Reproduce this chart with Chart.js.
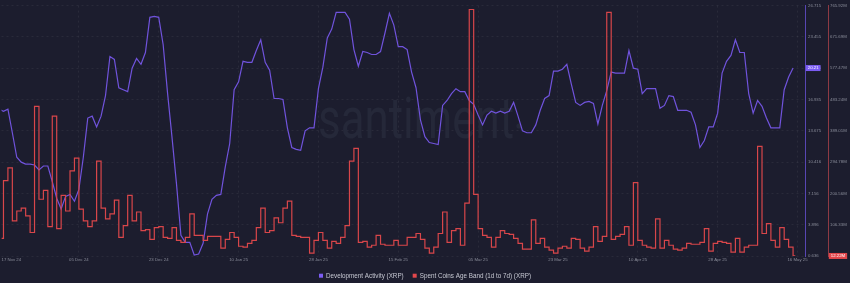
<!DOCTYPE html>
<html>
<head>
<meta charset="utf-8">
<script src="https://cdn.jsdelivr.net/npm/chart.js@4.4.1/dist/chart.umd.min.js"></script>
<style>
  html, body { margin: 0; padding: 0; background: #1c1d2e; }
  canvas { display: block; }
</style>
</head>
<body>
<canvas id="chart" width="850" height="283"></canvas>
<script>
// daily values, day 0 = 17 Nov 24
const devActivity = [
  15.92, 15.71, 15.92, 13.47, 10.92, 10.41, 10.21, 10.21, 10.11, 9.60,
  10.01, 10.01, 8.38, 6.65, 5.53, 6.85, 7.05, 6.34, 7.57, 10.92,
  15.00, 15.20, 14.08, 15.20, 17.34, 21.42, 21.11, 18.16, 17.95, 17.75,
  20.20, 21.21, 20.60, 21.83, 25.49, 25.59, 25.49, 22.64, 17.55, 12.96,
  8.17, 2.78, 2.06, 2.06, 0.74, 0.84, 1.96, 5.02, 6.54, 6.95,
  7.05, 9.91, 12.35, 17.95, 18.77, 20.91, 20.81, 20.81, 22.03, 23.15,
  20.81, 19.99, 17.04, 17.04, 16.94, 13.98, 11.94, 11.74, 11.64, 13.67,
  13.98, 13.98, 18.06, 20.30, 23.35, 24.27, 26.00, 26.00, 26.00, 25.29,
  22.13, 20.40, 21.93, 21.83, 21.62, 21.62, 21.93, 23.86, 25.90, 24.68,
  22.44, 22.44, 22.13, 19.79, 18.16, 14.80, 13.06, 12.45, 12.35, 12.25,
  16.32, 16.83, 17.55, 18.06, 17.75, 17.75, 16.83, 16.43, 15.31, 14.29,
  15.31, 15.71, 15.51, 15.71, 15.51, 15.71, 16.63, 15.20, 13.67, 13.47,
  13.47, 14.29, 15.81, 17.04, 17.34, 19.89, 19.89, 20.09, 20.60, 18.57,
  16.63, 16.32, 16.63, 16.73, 16.53, 14.39, 16.32, 17.85, 19.79, 19.69,
  19.69, 19.69, 22.03, 20.20, 20.09, 17.55, 18.06, 18.06, 18.06, 16.02,
  16.32, 17.34, 17.24, 15.81, 15.81, 15.81, 15.61, 14.29, 11.94, 12.66,
  14.08, 14.08, 15.51, 19.69, 20.91, 21.52, 23.15, 21.83, 21.83, 17.55,
  15.51, 16.83, 16.22, 15.00, 13.98, 13.98, 13.98, 17.95, 19.28, 20.21
];

// millions of XRP
const spentCoins = [
  65.1, 238.8, 277.1, 118.1, 147.5, 156.4, 132.8, 82.8, 462.6, 182.9,
  209.4, 100.4, 433.2, 94.5, 194.7, 147.5, 268.3, 306.6, 153.4, 118.1,
  100.4, 118.1, 297.7, 156.4, 124.0, 138.7, 180.0, 68.1, 103.4, 194.7,
  118.1, 144.6, 88.7, 91.6, 62.2, 97.5, 100.4, 68.1, 65.1, 97.5,
  59.2, 53.3, 68.1, 138.7, 74.0, 74.0, 59.2, 71.0, 71.0, 71.0,
  35.6, 62.2, 82.8, 68.1, 41.5, 38.6, 50.4, 59.2, 97.5, 156.4,
  82.8, 88.7, 126.9, 112.2, 156.4, 177.0, 74.0, 71.0, 68.1, 68.1,
  20.9, 59.2, 82.8, 59.2, 35.6, 56.3, 50.4, 68.1, 103.4, 297.7,
  336.0, 53.3, 56.3, 38.6, 44.5, 74.0, 47.4, 44.5, 44.5, 59.2,
  44.5, 44.5, 68.1, 68.1, 79.8, 62.2, 35.6, 20.9, 38.6, 79.8,
  144.6, 53.3, 88.7, 94.5, 44.5, 171.1, 754.1, 197.6, 94.5, 74.0,
  68.1, 38.6, 68.1, 88.7, 79.8, 76.9, 65.1, 50.4, 32.7, 32.7,
  121.0, 50.4, 65.1, 38.6, 29.8, 20.9, 35.6, 41.5, 35.6, 65.1,
  62.2, 35.6, 26.8, 38.6, 100.4, 56.3, 71.0, 745.3, 62.2, 71.0,
  76.9, 100.4, 44.5, 232.9, 59.2, 44.5, 38.6, 35.6, 124.0, 35.6,
  59.2, 44.5, 32.7, 29.8, 35.6, 50.4, 47.4, 47.4, 53.3, 94.5,
  26.8, 50.4, 56.3, 53.3, 50.4, 23.9, 65.1, 23.9, 38.6, 44.5,
  44.5, 341.9, 79.8, 109.3, 59.2, 38.6, 97.5, 62.2, 38.6, 12.22
];

const days = devActivity.map((_, i) => i);

const xTickDays = [0, 18, 36, 54, 72, 90, 108, 126, 144, 162, 180];
const xTickLabels = ['17 Nov 24', '05 Dec 24', '23 Dec 24', '10 Jan 25', '28 Jan 25', '15 Feb 25',
  '05 Mar 25', '23 Mar 25', '10 Apr 25', '28 Apr 25', '16 May 25'];
const devTicks = [0.636, 3.896, 7.156, 10.416, 13.675, 16.935, 20.195, 23.455, 26.715];
const spentTicks = [12.10, 106.33, 200.56, 294.78, 389.01, 483.24, 577.47, 671.69, 765.92];

const FONT = '"Liberation Sans", Arial, sans-serif';
const PURPLE = '#7053dc';
const RED = '#d8464a';
const GRID = 'rgba(255,255,255,0.06)';
const TICK = '#8a8d9a';

Chart.defaults.font.family = FONT;

const watermark = {
  id: 'watermark',
  beforeDatasetsDraw(chart) {
    const ctx = chart.ctx;
    ctx.save();
    ctx.font = '400 58px Roboto';
    ctx.fillStyle = '#252839';
    ctx.textBaseline = 'alphabetic';
    const w = ctx.measureText('santiment').width;
    ctx.translate(318, 138);
    ctx.scale(196 / w, 1);
    ctx.fillText('santiment', 0, 0);
    ctx.restore();
    ctx.save();
    ctx.fillStyle = '#252839';
    ctx.beginPath();
    ctx.arc(519, 126, 2.6, 0, Math.PI * 2);
    ctx.fill();
    ctx.restore();
  }
};

const badges = {
  id: 'badges',
  afterDraw(chart) {
    const ctx = chart.ctx;
    const draw = (scale, value, text, color) => {
      const y = scale.getPixelForValue(value);
      ctx.save();
      ctx.font = `4.3px ${FONT}`;
      const w = ctx.measureText(text).width + 4;
      ctx.fillStyle = color;
      ctx.fillRect(scale.left + 0.8, y - 3, w, 6);
      ctx.fillStyle = '#ffffff';
      ctx.textBaseline = 'middle';
      ctx.textAlign = 'left';
      ctx.fillText(text, scale.left + 2.8, y + 0.2);
      ctx.restore();
    };
    const lastDev = devActivity[devActivity.length - 1];
    const lastSpent = spentCoins[spentCoins.length - 1];
    draw(chart.scales.yDev, lastDev, lastDev.toFixed(2), '#7b5cf2');
    draw(chart.scales.ySpent, lastSpent, lastSpent.toFixed(2) + 'M', '#e2474c');
  }
};

const bottomLegend = {
  id: 'bottomLegend',
  afterDraw(chart) {
    const ctx = chart.ctx;
    ctx.save();
    ctx.font = `6.3px ${FONT}`;
    const items = chart.data.datasets.map(d => ({
      text: d.label, color: d.legendColor, w: 4 + 3 + ctx.measureText(d.label).width
    }));
    const gap = 9;
    const total = items.reduce((s, it) => s + it.w, 0) + gap * (items.length - 1);
    let x = (chart.width - total) / 2;
    const y = 275.7;
    ctx.textBaseline = 'middle';
    items.forEach(it => {
      ctx.fillStyle = it.color;
      ctx.fillRect(x, y - 2, 4, 4);
      ctx.fillStyle = '#c6c8d2';
      ctx.fillText(it.text, x + 7, y + 0.3);
      x += it.w + gap;
    });
    ctx.restore();
  }
};

const tickFont = { size: 4.3, family: FONT };

new Chart(document.getElementById('chart'), {
  type: 'line',
  data: {
    labels: days,
    datasets: [
      {
        label: 'Development Activity (XRP)',
        data: devActivity.map((v, i) => ({ x: days[i], y: v })),
        yAxisID: 'yDev',
        borderColor: PURPLE,
        legendColor: '#7b5cf2',
        borderWidth: 1.2,
        pointRadius: 0,
        tension: 0,
        order: 1
      },
      {
        label: 'Spent Coins Age Band (1d to 7d) (XRP)',
        data: spentCoins.map((v, i) => ({ x: days[i] + 0.5, y: v })),
        yAxisID: 'ySpent',
        borderColor: RED,
        legendColor: '#e2474c',
        borderWidth: 1.2,
        pointRadius: 0,
        stepped: 'middle',
        order: 0
      }
    ]
  },
  options: {
    responsive: false,
    animation: false,
    devicePixelRatio: 1,
    layout: { padding: { left: 0, right: 0, top: 0, bottom: 17 } },
    plugins: { legend: { display: false }, tooltip: { enabled: false } },
    scales: {
      x: {
        type: 'linear',
        min: 0.5625,
        max: 181.69,
        afterBuildTicks: s => { s.ticks = xTickDays.map(d => ({ value: Math.max(d, s.min + 2.2) })); },
        afterFit: s => { s.height = 10; },
        ticks: {
          autoSkip: false, maxRotation: 0, padding: 1.5, color: TICK, font: tickFont,
          callback: (v, i) => xTickLabels[i]
        },
        grid: { color: c => (c.index === 0 ? 'rgba(0,0,0,0)' : GRID), drawTicks: false },
        border: { display: false, dash: [2, 3] }
      },
      yDev: {
        position: 'right',
        weight: 1,
        min: devTicks[0],
        max: devTicks[devTicks.length - 1],
        afterBuildTicks: s => { s.ticks = devTicks.map(v => ({ value: v })); },
        afterFit: s => { s.width = 23; },
        ticks: { autoSkip: false, padding: 3, color: TICK, font: tickFont, callback: v => v.toFixed(3) },
        grid: { color: GRID, drawTicks: false },
        border: { display: true, color: '#5846b4', width: 1, dash: [2, 3] }
      },
      ySpent: {
        position: 'right',
        weight: 2,
        min: spentTicks[0],
        max: spentTicks[spentTicks.length - 1],
        afterBuildTicks: s => { s.ticks = spentTicks.map(v => ({ value: v })); },
        afterFit: s => { s.width = 22; },
        ticks: { autoSkip: false, padding: 2, color: TICK, font: tickFont, callback: v => v.toFixed(2) + 'M' },
        grid: { display: false, drawOnChartArea: false, drawTicks: false },
        border: { display: true, color: '#8e3a44', width: 1 }
      }
    }
  },
  plugins: [watermark, badges, bottomLegend]
});
</script>
</body>
</html>
